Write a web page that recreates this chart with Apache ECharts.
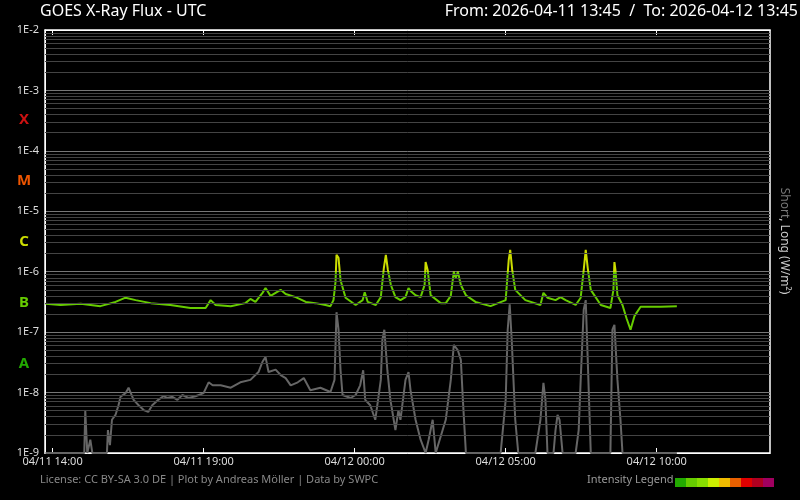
<!DOCTYPE html>
<html>
<head>
<meta charset="utf-8">
<script src="https://cdn.jsdelivr.net/npm/echarts@6/dist/echarts.min.js"></script>
<style>html,body{margin:0;background:#000}#chart{width:800px;height:500px}</style>
</head>
<body>
<div id="chart"></div>
<script>
// time = minutes relative to 2026-04-12 00:00 UTC, value = log10(W/m2)
var longFlux = [
  [-614,-6.53],[-584,-6.55],[-544,-6.53],[-505,-6.57],[-475,-6.50],[-455,-6.43],[-435,-6.47],[-405,-6.52],
  [-366,-6.55],[-326,-6.60],[-296,-6.60],[-286,-6.47],[-276,-6.55],[-246,-6.57],[-217,-6.52],[-207,-6.45],
  [-197,-6.50],[-183,-6.35],[-177,-6.27],[-167,-6.40],[-157,-6.35],[-147,-6.30],[-137,-6.37],[-117,-6.42],
  [-97,-6.50],[-78,-6.52],[-58,-6.55],[-48,-6.57],[-42,-6.47],[-38,-6.17],[-36,-5.72],[-32,-5.77],
  [-28,-6.14],[-18,-6.43],[2,-6.55],[16,-6.47],[20,-6.34],[26,-6.50],[42,-6.55],[52,-6.42],
  [58,-5.94],[62,-5.72],[66,-5.97],[72,-6.22],[81,-6.42],[91,-6.47],[101,-6.42],[107,-6.27],
  [111,-6.32],[121,-6.39],[131,-6.42],[139,-6.22],[141,-5.84],[145,-5.97],[151,-6.39],[171,-6.52],
  [181,-6.52],[191,-6.40],[197,-6.00],[201,-6.10],[205,-6.00],[211,-6.22],[221,-6.39],[240,-6.50],
  [270,-6.57],[300,-6.47],[306,-5.81],[309,-5.64],[313,-5.97],[319,-6.30],[339,-6.47],[369,-6.55],
  [375,-6.35],[383,-6.43],[399,-6.47],[409,-6.42],[419,-6.47],[439,-6.55],[449,-6.43],[455,-5.97],
  [459,-5.64],[463,-5.94],[469,-6.30],[489,-6.55],[508,-6.60],[514,-6.30],[516,-5.84],[518,-5.97],
  [522,-6.39],[532,-6.55],[540,-6.77],[548,-6.96],[556,-6.73],[568,-6.58],[608,-6.58],[640,-6.57]
];
var shortFlux = [
  [-614,-9],[-537,-9],[-535,-8.30],[-531,-9],[-525,-8.78],[-521,-9],[-492,-9],[-490,-8.62],
  [-486,-8.87],[-482,-8.45],[-475,-8.37],[-469,-8.21],[-465,-8.07],[-455,-8.01],[-449,-7.92],[-439,-8.12],
  [-429,-8.21],[-419,-8.29],[-410,-8.32],[-402,-8.21],[-390,-8.12],[-380,-8.06],[-372,-8.09],[-362,-8.07],
  [-352,-8.12],[-342,-8.04],[-330,-8.09],[-316,-8.06],[-300,-8.01],[-290,-7.83],[-282,-7.88],[-266,-7.88],
  [-246,-7.92],[-227,-7.83],[-207,-7.79],[-191,-7.66],[-183,-7.49],[-177,-7.41],[-171,-7.66],[-157,-7.62],
  [-147,-7.71],[-137,-7.76],[-127,-7.88],[-113,-7.83],[-101,-7.76],[-88,-7.96],[-68,-7.92],[-48,-7.99],
  [-40,-7.79],[-36,-6.67],[-32,-6.96],[-28,-7.63],[-24,-8.04],[-8,-8.09],[2,-8.04],[11,-7.88],
  [17,-7.63],[21,-8.12],[31,-8.21],[41,-8.45],[52,-7.79],[55,-7.13],[59,-6.96],[65,-7.63],
  [71,-8.12],[81,-8.62],[87,-8.29],[91,-8.45],[101,-7.79],[107,-7.66],[111,-7.96],[121,-8.45],
  [131,-8.78],[141,-9],[147,-8.78],[155,-8.45],[161,-9],[181,-8.45],[191,-7.79],[197,-7.21],
  [205,-7.30],[211,-7.46],[215,-8.12],[221,-9],[290,-9],[300,-8.12],[304,-6.96],[308,-6.54],
  [312,-7.13],[319,-8.45],[325,-9],[359,-9],[363,-8.78],[369,-8.45],[375,-7.84],[379,-8.12],
  [383,-9],[395,-9],[399,-8.62],[403,-8.37],[407,-8.45],[413,-9],[439,-9],[445,-8.62],
  [449,-7.79],[455,-6.63],[459,-6.47],[463,-7.46],[469,-9],[508,-9],[512,-6.96],[516,-6.88],
  [522,-7.79],[528,-8.45],[532,-9],[640,-9]
];
var xTicks = [-600, -300, 0, 300, 600];
var xTickLabels = ['04/11 14:00', '04/11 19:00', '04/12 00:00', '04/12 05:00', '04/12 10:00'];
var classLetters = ['X', 'M', 'C', 'B', 'A'];
var classColors = ['#cc1111', '#ee5500', '#ccdd00', '#66cc00', '#22aa00'];
var legendColors = ['#22aa00', '#66cc00', '#88dd00', '#ccee00', '#f0bb00', '#e86000', '#e00000', '#b00020', '#a00060'];
var cLevel = -6; // 1E-6, long flux above this is drawn yellow

var font = 'Noto Sans';
var minorLines = [];
for (var e = -9; e < -2; e++) {
  for (var k = 2; k <= 9; k++) minorLines.push({ yAxis: e + Math.log10(k) });
}

var graphics = [
  { type: 'text', left: 40, top: 3, style: { text: 'GOES X-Ray Flux - UTC', fill: '#fff', font: '16px ' + font } },
  { type: 'text', right: 2, top: 3, style: { text: 'From: 2026-04-11 13:45  /  To: 2026-04-12 13:45', fill: '#fff', font: '16px ' + font } },
  { type: 'text', left: 40, top: 474, style: { text: 'License: CC BY-SA 3.0 DE | Plot by Andreas Möller | Data by SWPC', fill: '#888', font: '11px ' + font } },
  { type: 'text', left: 587, top: 474, style: { text: 'Intensity Legend', fill: '#999', font: '11px ' + font } },
  { type: 'text', x: 784, y: 241, rotation: -Math.PI / 2, style: {
      text: '{a|Short}{b|, Long (W/m²)}', align: 'center', verticalAlign: 'middle',
      rich: { a: { fill: '#777', font: '12px ' + font }, b: { fill: '#ccc', font: '12px ' + font } } } }
];
classLetters.forEach(function (c, i) {
  graphics.push({ type: 'text', x: 24, y: 120 + i * 61, style: { text: c, fill: classColors[i], font: 'bold 15px ' + font, align: 'center', verticalAlign: 'middle' } });
});
legendColors.forEach(function (c, i) {
  graphics.push({ type: 'rect', shape: { x: 675 + i * 11, y: 478, width: 11, height: 9 }, style: { fill: c } });
});

var chart = echarts.init(document.getElementById('chart'));
chart.setOption({
  backgroundColor: '#000',
  animation: false,
  grid: { left: 45, right: 30, top: 30, bottom: 47, show: true, borderColor: '#fff', borderWidth: 1.5 },
  xAxis: [{
    type: 'value', min: -615, max: 825,
    axisLine: { onZero: false, lineStyle: { color: '#fff' } },
    axisTick: { inside: true, length: 5, lineStyle: { color: '#fff' }, customValues: xTicks },
    axisLabel: { color: '#ddd', fontSize: 11, fontFamily: font, margin: 3, customValues: xTicks,
      formatter: function (v) { return xTickLabels[xTicks.indexOf(v)]; } },
    splitLine: { show: false }
  }, {
    type: 'value', min: -615, max: 825, position: 'top',
    axisLine: { onZero: false, lineStyle: { color: '#fff' } },
    axisTick: { inside: true, length: 5, lineStyle: { color: '#fff' }, customValues: xTicks },
    axisLabel: { show: false },
    splitLine: { show: false }
  }],
  yAxis: {
    type: 'value', min: -9, max: -2, interval: 1,
    axisLine: { show: true, onZero: false, lineStyle: { color: '#fff' } },
    axisTick: { show: false },
    axisLabel: { color: '#ddd', fontSize: 11, fontFamily: font, margin: 6,
      formatter: function (v) { return '1E' + v; } },
    splitLine: { lineStyle: { color: '#777', width: 1 } }
  },
  graphic: graphics,
  series: [{
    name: 'Short', type: 'line', data: shortFlux, showSymbol: false,
    lineStyle: { color: '#666', width: 2 }, z: 2,
    markLine: { silent: true, symbol: 'none', label: { show: false },
      lineStyle: { color: '#444', width: 1, type: 'solid' }, data: minorLines }
  }, {
    name: 'Long', type: 'line', data: longFlux, showSymbol: false,
    lineStyle: { width: 2, color: '#66cc00' }, z: 3
  }]
});

// colour the long flux yellow above the C level
var yc = chart.convertToPixel({ yAxisIndex: 0 }, cLevel);
var f = yc / 500;
chart.setOption({ series: [{}, { lineStyle: { color: new echarts.graphic.LinearGradient(0, 0, 0, 500, [
  { offset: 0, color: '#ccdd00' }, { offset: f, color: '#ccdd00' },
  { offset: f, color: '#66cc00' }, { offset: 1, color: '#66cc00' }], true) } }] });
</script>
</body>
</html>
